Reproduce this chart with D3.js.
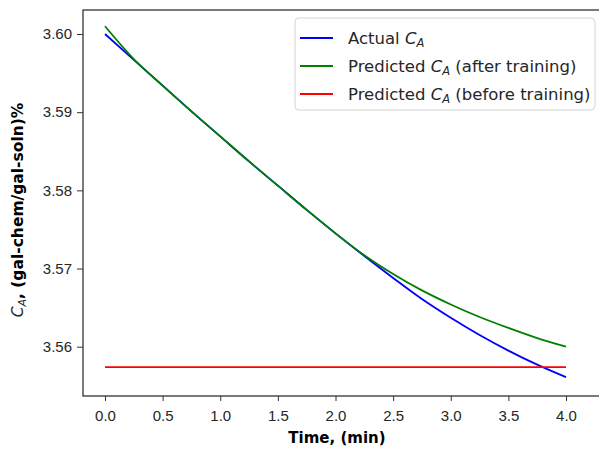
<!DOCTYPE html>
<html lang="en">
<head>
    <meta charset="UTF-8">
    <script src="https://d3js.org/d3.v7.min.js"></script>
    <style>
        body {margin: 0; background-color: #fff}
        svg {display: block; font-family: "DejaVu Sans", sans-serif}
        .tick text {fill: #262626}
    </style>
</head>
<body>
<svg class="chart"></svg>
<script type="text/javascript">
    // values
    let times = [0, 0.25, 0.5, 0.75, 1.0, 1.25, 1.5, 1.75, 2.0, 2.25, 2.5, 2.75, 3.0, 3.25, 3.5, 3.75, 4.0];
    let actual = [3.6000, 3.5967, 3.5934, 3.5901, 3.5869, 3.5837, 3.5806, 3.5775, 3.5745,
        3.5716, 3.5688, 3.5661, 3.5637, 3.5615, 3.5595, 3.5577, 3.5561];
    let after_training = [3.6010, 3.5968, 3.5934, 3.5901, 3.5869, 3.5837, 3.5806, 3.5775, 3.5745,
        3.5717, 3.5693, 3.5672, 3.5654, 3.5638, 3.5624, 3.5611, 3.5600];
    let before_times = [0, 4];
    let before_training = [3.5574, 3.5574];
    let x_ticks = [0, 0.5, 1.0, 1.5, 2.0, 2.5, 3.0, 3.5, 4.0];
    let y_ticks = [3.56, 3.57, 3.58, 3.59, 3.60];

    let width = 599, height = 449;
    let frame = {left: 83, top: 10, right: 602, bottom: 396};

    var svg = d3.select('.chart').attr('width', width).attr('height', height);

    var x_range = d3.scaleLinear().domain([0, 4]).range([105, 566]);
    var y_range = d3.scaleLinear().domain([3.56, 3.60]).range([346.7, 34]);

    // axes
    svg.append('g')
        .attr('transform', 'translate(0,' + frame.bottom + ')')
        .call(d3.axisBottom(x_range).tickValues(x_ticks).tickFormat(d3.format('.1f')).tickSizeOuter(0).tickSize(5).tickPadding(9))
        .call(g => g.select('.domain').remove())
        .call(g => g.selectAll('line').attr('stroke', '#333'))
        .call(g => g.selectAll('text').attr('font-size', 15));

    svg.append('g')
        .attr('transform', 'translate(' + frame.left + ',0)')
        .call(d3.axisLeft(y_range).tickValues(y_ticks).tickFormat(d3.format('.2f')).tickSizeOuter(0).tickSize(6).tickPadding(5))
        .call(g => g.select('.domain').remove())
        .call(g => g.selectAll('line').attr('stroke', '#333'))
        .call(g => g.selectAll('text').attr('font-size', 15));

    svg.append('rect')
        .attr('x', frame.left).attr('y', frame.top)
        .attr('width', frame.right - frame.left).attr('height', frame.bottom - frame.top)
        .attr('fill', 'none').attr('stroke', '#333').attr('stroke-width', 1.3);

    // lines
    var line = d3.line().x(d => x_range(d[0])).y(d => y_range(d[1])).curve(d3.curveMonotoneX);
    var series = [
        {name: 'actual', color: '#0000ff', pts: d3.zip(times, actual)},
        {name: 'before', color: '#ff0000', pts: d3.zip(before_times, before_training)},
        {name: 'after', color: '#008000', pts: d3.zip(times, after_training)}
    ];
    series.forEach(s => {
        svg.append('path')
            .attr('d', line(s.pts))
            .attr('fill', 'none').attr('stroke', s.color).attr('stroke-width', 1.8);
    });

    // legend
    var legend = svg.append('g');
    legend.append('rect')
        .attr('x', 295).attr('y', 18).attr('width', 300).attr('height', 92)
        .attr('rx', 4).attr('fill', 'white').attr('fill-opacity', 0.85)
        .attr('stroke', '#d4d4d4');
    var entries = [
        ['#0000ff', 'Actual ', ''],
        ['#008000', 'Predicted ', ' (after training)'],
        ['#ff0000', 'Predicted ', ' (before training)']
    ];
    entries.forEach((e, i) => {
        let yy = 38 + i * 28;
        legend.append('line').attr('x1', 300).attr('x2', 333).attr('y1', yy).attr('y2', yy)
            .attr('stroke', e[0]).attr('stroke-width', 1.8);
        let t = legend.append('text').attr('x', 348).attr('y', yy + 6)
            .attr('font-size', 16.5).attr('fill', '#262626');
        t.append('tspan').text(e[1]);
        t.append('tspan').attr('font-style', 'italic').text('C');
        t.append('tspan').attr('font-style', 'italic').attr('font-size', 11.5).attr('dy', 3).text('A');
        t.append('tspan').attr('dy', -3).text(e[2]);
    });

    // axis labels
    svg.append('text')
        .attr('x', 337).attr('y', 443)
        .attr('text-anchor', 'middle').attr('font-size', 15).attr('font-weight', 'bold')
        .text('Time, (min)');

    var ylab = svg.append('text')
        .attr('transform', 'translate(23,210) rotate(-90)')
        .attr('text-anchor', 'middle').attr('font-size', 15.5).attr('fill', '#262626');
    ylab.append('tspan').attr('font-style', 'italic').text('C');
    ylab.append('tspan').attr('font-style', 'italic').attr('font-size', 11).attr('dy', 3).text('A');
    ylab.append('tspan').attr('dy', -3).attr('font-weight', 'bold').attr('fill', '#000').text(', (gal-chem/gal-soln)%');
</script>
</body>
</html>
